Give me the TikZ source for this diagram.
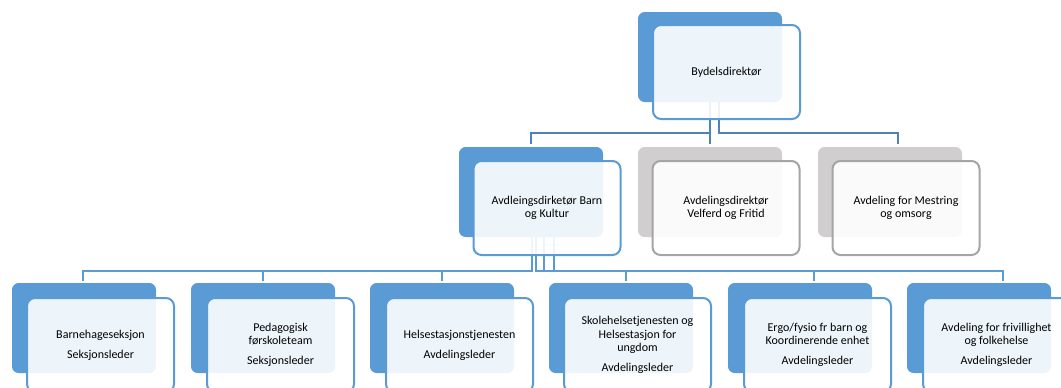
\documentclass[tikz,border=0pt]{standalone}
\usepackage{fontspec}
\setmainfont{Carlito}
\usetikzlibrary{backgrounds}
\definecolor{accblue}{HTML}{5B9BD5}
\definecolor{darkconn}{HTML}{4F81BD}
\definecolor{greyback}{HTML}{D0CECE}
\definecolor{greyline}{HTML}{A5A5A5}
\tikzset{
  backbox/.style={rectangle, rounded corners=5pt, minimum width=108pt, minimum height=67.5pt, inner sep=0pt, fill=accblue, draw=none},
  backgrey/.style={backbox, fill=greyback},
  frontbox/.style={rectangle, rounded corners=6pt, minimum width=110.25pt, minimum height=70.5pt, inner sep=0pt,
    draw=accblue, line width=1.5pt, fill=white, fill opacity=0.9, text opacity=1, align=center,
    font=\fontsize{9}{10}\selectfont},
  frontgrey/.style={frontbox, draw=greyline},
  connA/.style={draw=darkconn, line width=1.5pt},
  connB/.style={draw=accblue, line width=1.5pt},
}
\begin{document}
\begin{tikzpicture}[x=0.75pt, y=-0.75pt]
\useasboundingbox (0,0) rectangle (1061,387);
% level 1
\node[backbox] (b0) at (710,57) {};
\node[frontbox] (f0) at (726.5,72) {Bydelsdirektør};
% level 2
\node[backbox] (b1) at (531,192) {};
\node[frontbox] (f1) at (547,208) {Avdleingsdirketør Barn\\og Kultur};
\node[backgrey] (b2) at (710,192) {};
\node[frontgrey] (f2) at (726,208) {Avdelingsdirektør\\Velferd og Fritid};
\node[backgrey] (b3) at (890,192) {};
\node[frontgrey] (f3) at (906,208) {Avdeling for Mestring\\og omsorg};
% level 3
\node[backbox] (c1) at (84,328) {};
\node[frontbox] (g1) at (100.5,345) {Barnehageseksjon\\[5pt]Seksjonsleder};
\node[backbox] (c2) at (263,328) {};
\node[frontbox] (g2) at (280.5,345) {Pedagogisk\\førskoleteam\\[5pt]Seksjonsleder};
\node[backbox] (c3) at (442,328) {};
\node[frontbox] (g3) at (459.5,345) {Helsestasjonstjenesten\\[5pt]Avdelingsleder};
\node[backbox] (c4) at (621,328) {};
\node[frontbox] (g4) at (637.5,345) {Skolehelsetjenesten og\\Helsestasjon for\\ungdom\\[5pt]Avdelingsleder};
\node[backbox] (c5) at (800,328) {};
\node[frontbox] (g5) at (817.5,345) {Ergo/fysio fr barn og\\Koordinerende enhet\\[5pt]Avdelingsleder};
\node[backbox] (c6) at (979,328) {};
\node[frontbox] (g6) at (996.5,345) {Avdeling for frivillighet\\og folkehelse\\[5pt]Avdelingsleder};
% connectors
\begin{scope}[on background layer]
\coordinate (t0) at (b0.south);
\coordinate (t1) at ([xshift=6.75pt]b0.south);
\draw[connA] (t0) -- (t0 |- 0,133) -| ([yshift=2pt]b1.north);
\draw[connA] (t0) -- ([yshift=2pt]b2.north);
\draw[connA] (t1) -- (t1 |- 0,133) -| ([xshift=6pt,yshift=2pt]b3.north);
\coordinate (p0) at ([xshift=0.75pt]b1.south);
\coordinate (p1) at ([xshift=3.75pt]b1.south);
\coordinate (p2) at ([xshift=9.75pt]b1.south);
\coordinate (p3) at ([xshift=17.25pt]b1.south);
\draw[connB] (p0) -- (p0 |- 0,271) -| ([xshift=-0.75pt,yshift=1pt]c1.north);
\draw[connB] (p0) -- (p0 |- 0,271) -| ([yshift=1pt]c2.north);
\draw[connB] (p0) -- (p0 |- 0,271) -| ([yshift=1pt]c3.north);
\draw[connB] (p1) -- (p1 |- 0,271) -| ([xshift=3.75pt,yshift=1pt]c4.north);
\draw[connB] (p2) -- (p2 |- 0,271) -| ([xshift=10.5pt,yshift=1pt]c5.north);
\draw[connB] (p3) -- (p3 |- 0,271) -| ([xshift=18pt,yshift=1pt]c6.north);
\end{scope}
\end{tikzpicture}
\end{document}
